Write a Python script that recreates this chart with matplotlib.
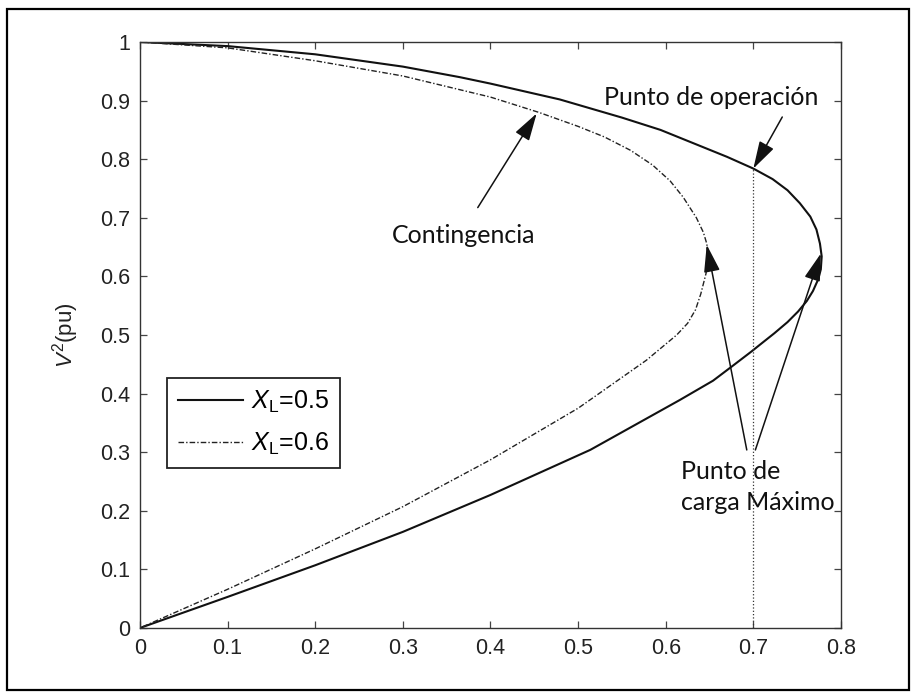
import matplotlib
matplotlib.use("Agg")
import matplotlib.pyplot as plt
import matplotlib.ticker as mticker
from matplotlib.patches import Rectangle

# ================= 全局配置 =================
plt.rcParams["font.family"] = ["Liberation Sans", "DejaVu Sans"]
plt.rcParams["mathtext.fontset"] = "custom"
plt.rcParams["mathtext.rm"] = "Liberation Sans"
plt.rcParams["mathtext.it"] = "Liberation Sans:italic"
plt.rcParams["mathtext.bf"] = "Liberation Sans:bold"
NOTE_FONT = ["Lato", "DejaVu Sans"]

# ---- 曲线数据 (P, V^2)，从 (0,1) 经过鼻点回到 (0,0) ----
p_x05 = [0.0, 0.1, 0.2, 0.3, 0.365, 0.4, 0.479, 0.55, 0.594, 0.67, 0.70, 0.722,
         0.739, 0.753, 0.765, 0.772, 0.776, 0.778, 0.777, 0.774, 0.768, 0.761,
         0.751, 0.739, 0.724, 0.708, 0.698, 0.677, 0.654, 0.616, 0.514, 0.4,
         0.3, 0.2, 0.1, 0.0]
v2_x05 = [1.0, 0.993, 0.979, 0.958, 0.940, 0.929, 0.902, 0.871, 0.850, 0.804,
          0.784, 0.766, 0.747, 0.725, 0.702, 0.680, 0.656, 0.634, 0.612, 0.595,
          0.575, 0.558, 0.540, 0.522, 0.503, 0.484, 0.472, 0.448, 0.422, 0.389,
          0.304, 0.227, 0.164, 0.107, 0.053, 0.0]

p_x06 = [0.0, 0.1, 0.2, 0.3, 0.4, 0.455, 0.5, 0.53, 0.56, 0.585, 0.605, 0.62,
         0.635, 0.643, 0.647, 0.648, 0.646, 0.640, 0.634, 0.625, 0.6125, 0.578,
         0.521, 0.5, 0.4, 0.3, 0.2, 0.1, 0.0]
v2_x06 = [1.0, 0.990, 0.968, 0.942, 0.906, 0.880, 0.856, 0.838, 0.815, 0.790,
          0.763, 0.735, 0.700, 0.675, 0.655, 0.630, 0.605, 0.570, 0.543, 0.520,
          0.500, 0.457, 0.397, 0.375, 0.287, 0.207, 0.135, 0.066, 0.0]

x_ticks = [0, 0.1, 0.2, 0.3, 0.4, 0.5, 0.6, 0.7, 0.8]
y_ticks = [0, 0.1, 0.2, 0.3, 0.4, 0.5, 0.6, 0.7, 0.8, 0.9, 1.0]

p_op = 0.7
v2_op = 0.784
# ===========================================

fig = plt.figure(figsize=(9.19, 7.0), dpi=100)
ax = fig.add_axes([0.1523, 0.1029, 0.7628, 0.8371])

ax.plot(p_x05, v2_x05, color="#111111", lw=1.5, label=r"$X_{\mathrm{L}}$=0.5",
        solid_joinstyle="round")
ax.plot(p_x06, v2_x06, color="#222222", lw=1.0, linestyle=(0, (4, 1.5, 1, 1.5)),
        label=r"$X_{\mathrm{L}}$=0.6")

# 运行点竖线
ax.plot([p_op, p_op], [0, v2_op], color="#333333", lw=0.9, linestyle=":")

ax.set_xlim(0, 0.8)
ax.set_ylim(0, 1)
ax.set_xticks(x_ticks)
ax.set_yticks(y_ticks)
fmt = mticker.FuncFormatter(lambda v, pos: f"{v:g}")
ax.xaxis.set_major_formatter(fmt)
ax.yaxis.set_major_formatter(fmt)
ax.tick_params(direction="in", top=True, right=True, length=5, width=0.9,
               labelsize=15.5, colors="#444444", labelcolor="#222222", pad=7)
for sp in ax.spines.values():
    sp.set_color("#333333")
    sp.set_linewidth(1.0)

ax.set_ylabel(r"$V^{2}$(pu)", fontsize=16, color="#222222", labelpad=14)

leg = ax.legend(loc="upper left", bbox_to_anchor=(0.0385, 0.4266), borderaxespad=0,
                fontsize=18, handlelength=2.6, handletextpad=0.3, fancybox=False,
                framealpha=1, edgecolor="#222222", borderpad=0.45, labelspacing=0.6)
leg.get_frame().set_linewidth(1.3)

# ---- 注释与箭头 ----
arrow = dict(arrowstyle="-|>,head_length=0.85,head_width=0.25", color="#111111",
             lw=1.1, mutation_scale=20, shrinkA=0, shrinkB=0)

ax.text(0.529, 0.8925, "Punto de operación", fontsize=18, family=NOTE_FONT,
        color="#111111", va="baseline")
ax.annotate("", xy=(p_op, v2_op), xytext=(0.733, 0.872), arrowprops=arrow)

ax.text(0.287, 0.6565, "Contingencia", fontsize=18, family=NOTE_FONT,
        color="#111111", va="baseline")
ax.annotate("", xy=(0.4527, 0.878), xytext=(0.3855, 0.7174), arrowprops=arrow)

ax.text(0.617, 0.2543, "Punto de", fontsize=18, family=NOTE_FONT,
        color="#111111", va="baseline")
ax.text(0.617, 0.2014, "carga Máximo", fontsize=18, family=NOTE_FONT,
        color="#111111", va="baseline")
ax.annotate("", xy=(0.6468, 0.654), xytext=(0.6925, 0.3038), arrowprops=arrow)
ax.annotate("", xy=(0.777, 0.639), xytext=(0.7023, 0.3038), arrowprops=arrow)

# 外框
fig.patches.append(Rectangle((0.0076, 0.0143), 0.9815, 0.973, transform=fig.transFigure,
                             fill=False, edgecolor="black", lw=1.6))

fig.savefig("out.png", dpi=100, facecolor="white")
